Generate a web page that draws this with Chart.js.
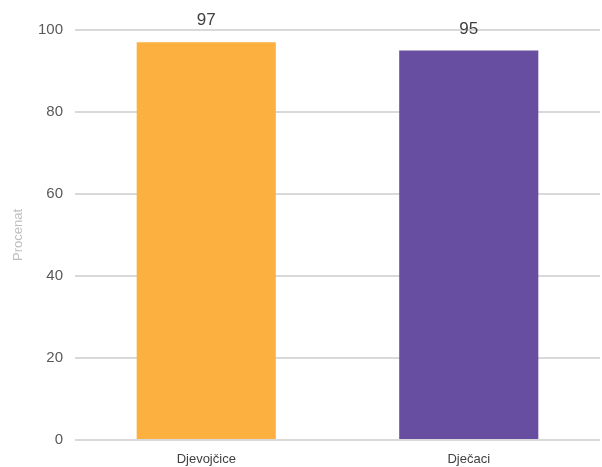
<!DOCTYPE html>
<html><head><meta charset="utf-8">
<script src="https://cdn.jsdelivr.net/npm/chart.js@4"></script>
<style>html,body{margin:0;padding:0;background:#fff}#wrap{width:602px;height:467px}</style>
</head><body><div id="wrap"><canvas id="c"></canvas></div>
<script>
const categories = ["Djevojčice", "Dječaci"];
const values = [97, 95];
const barColors = ["#FBB040", "#684EA0"];
const yTicks = [0, 20, 40, 60, 80, 100];

const valueLabels = {
  id: 'valueLabels',
  afterDatasetsDraw(chart) {
    const ctx = chart.ctx;
    const meta = chart.getDatasetMeta(0);
    ctx.save();
    ctx.fillStyle = '#404040';
    ctx.font = '17px "Liberation Sans", Arial, sans-serif';
    ctx.textAlign = 'center';
    ctx.textBaseline = 'bottom';
    meta.data.forEach((bar, i) => {
      ctx.fillText(String(values[i]), bar.x, bar.y - 13);
    });
    ctx.restore();
  }
};

new Chart(document.getElementById('c'), {
  type: 'bar',
  data: {
    labels: categories,
    datasets: [{ data: values, backgroundColor: barColors, borderWidth: 0, categoryPercentage: 1, barPercentage: 0.53 }]
  },
  options: {
    responsive: true, maintainAspectRatio: false, animation: false,
    layout: { padding: { top: 30, right: 2, left: 0, bottom: 0 } },
    plugins: { legend: { display: false }, tooltip: { enabled: false } },
    scales: {
      x: {
        grid: { display: false }, border: { display: false },
        ticks: { color: '#404040', font: { family: '"Liberation Sans", Arial, sans-serif', size: 13 }, padding: 4 },
        afterFit(s) { s.height = 27; }
      },
      y: {
        min: 0, max: 100,
        afterBuildTicks(s) { s.ticks = yTicks.map(v => ({ value: v })); },
        grid: { color: '#d9d9d9', lineWidth: 2, drawTicks: false },
        border: { display: false },
        ticks: { color: '#595959', font: { family: '"Liberation Sans", Arial, sans-serif', size: 15 }, padding: 12 },
        title: { display: true, text: 'Procenat', color: '#bfbfbf', font: { family: '"Liberation Sans", Arial, sans-serif', size: 13 }, padding: { top: 11, bottom: 0 } },
        afterFit(s) { s.width = 75; }
      }
    }
  },
  plugins: [valueLabels]
});
</script></body></html>
